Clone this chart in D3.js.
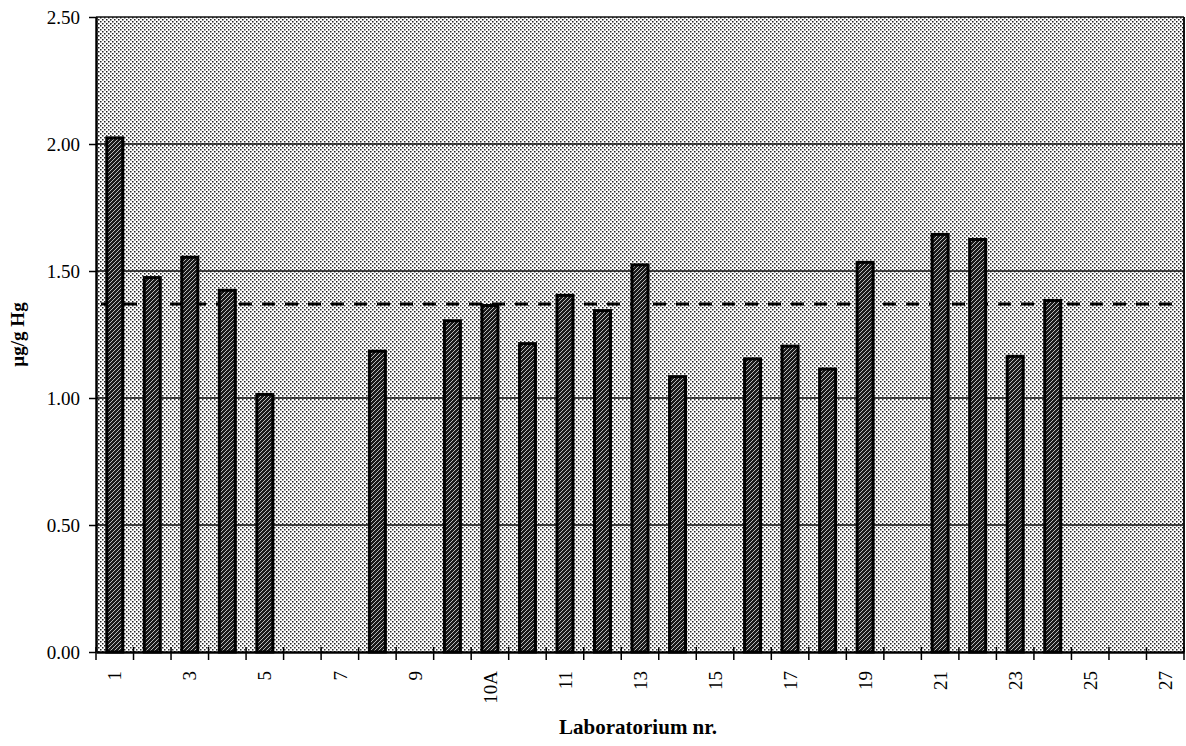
<!DOCTYPE html>
<html>
<head>
<meta charset="utf-8">
<script src="https://cdn.jsdelivr.net/npm/d3@7"></script>
<style>
  body { margin: 0; background: #fff; }
  svg { display: block; font-family: "Liberation Serif", "DejaVu Serif", serif; }
</style>
</head>
<body>
<svg id="chart" width="1186" height="746"></svg>
<script>
// labs on the x axis (only every other one gets a label)
const labs = ["1","2","3","4","5","6","7","8","9","10","10A","10B","11","12","13","14","15","16","17","18","19","20","21","22","23","24","25","26","27"];
// measured Hg, null = no result
const hgValues = [2.03,1.48,1.56,1.43,1.02,null,null,1.19,null,1.31,1.37,1.22,1.41,1.35,1.53,1.09,null,1.16,1.21,1.12,1.54,null,1.65,1.63,1.17,1.39,null,null,null];
const meanValue = 1.37;
const yTicks = [0, 0.5, 1.0, 1.5, 2.0, 2.5];

const svg = d3.select("#chart");
const m = { top: 17, right: 2, bottom: 94, left: 96 };
const W = 1186, H = 746;
const iW = W - m.left - m.right, iH = H - m.top - m.bottom;

const defs = svg.append("defs");
const stip = defs.append("pattern").attr("id", "stipple")
  .attr("width", 4).attr("height", 4).attr("patternUnits", "userSpaceOnUse");
stip.append("rect").attr("width", 4).attr("height", 4).attr("fill", "#fff");
stip.append("rect").attr("x", 0).attr("y", 0).attr("width", 1.5).attr("height", 1.5).attr("fill", "#222");
stip.append("rect").attr("x", 2).attr("y", 2).attr("width", 1.5).attr("height", 1.5).attr("fill", "#222");

const hatch = defs.append("pattern").attr("id", "hatch")
  .attr("width", 4).attr("height", 4).attr("patternUnits", "userSpaceOnUse");
hatch.append("rect").attr("width", 4).attr("height", 4).attr("fill", "#1a1a1a");
hatch.append("path").attr("d", "M-1,1 L1,-1 M0,4 L4,0 M3,5 L5,3")
  .attr("stroke", "#bbb").attr("stroke-width", 1);

const g = svg.append("g").attr("transform", `translate(${m.left},${m.top})`);

const x = d3.scaleBand().domain(labs).range([0, iW]);
const y = d3.scaleLinear().domain([0, 2.5]).range([iH, 0]);

// background
g.append("rect").attr("width", iW).attr("height", iH).attr("fill", "url(#stipple)");

// gridlines
g.selectAll(".grid").data(yTicks.filter(v => v > 0)).join("line")
  .attr("x1", 0).attr("x2", iW)
  .attr("y1", d => y(d)).attr("y2", d => y(d))
  .attr("stroke", "#111").attr("stroke-width", 1.6);

// right border
g.append("line").attr("x1", iW).attr("x2", iW).attr("y1", 0).attr("y2", iH)
  .attr("stroke", "#111").attr("stroke-width", 2);

// mean line
g.append("line")
  .attr("x1", 5).attr("x2", iW - 4)
  .attr("y1", y(meanValue)).attr("y2", y(meanValue))
  .attr("stroke", "#000").attr("stroke-width", 3)
  .attr("stroke-dasharray", "13,10");

// bars
const bw = 19;
g.selectAll(".bar").data(labs.map((l, i) => [l, hgValues[i]]).filter(d => d[1] != null))
  .join("rect")
  .attr("x", d => x(d[0]) + x.bandwidth() / 2 - bw / 2 + 1.5)
  .attr("y", d => y(d[1]) + 1.5)
  .attr("width", bw - 3)
  .attr("height", d => iH - y(d[1]) - 1.5)
  .attr("fill", "url(#hatch)")
  .attr("stroke", "#000").attr("stroke-width", 3);

// y axis
const yAxis = g.append("g")
  .call(d3.axisLeft(y).tickValues(yTicks).tickFormat(d3.format(".2f")).tickSize(7).tickSizeOuter(0));
yAxis.select(".domain").attr("stroke", "#000").attr("stroke-width", 2.5);
yAxis.selectAll(".tick line").attr("stroke", "#000").attr("stroke-width", 1.5);
yAxis.selectAll(".tick text").attr("font-size", 19).attr("fill", "#000")
  .attr("font-family", "Liberation Serif, serif").attr("x", -16);

// x axis
const xAxis = g.append("g").attr("transform", `translate(0,${iH})`)
  .call(d3.axisBottom(x).tickSize(0).tickFormat((d, i) => i % 2 === 0 ? d : ""));
xAxis.select(".domain").attr("stroke", "#000").attr("stroke-width", 2.5);
xAxis.selectAll(".tick text")
  .attr("font-size", 19).attr("fill", "#000").attr("font-family", "Liberation Serif, serif")
  .attr("transform", "rotate(-90)")
  .attr("text-anchor", "end").attr("x", -19).attr("y", 0).attr("dy", "0.35em");

// crossing tick marks at band boundaries
const bounds = labs.map(l => x(l)).concat([iW]);
g.selectAll(".xt").data(bounds).join("line")
  .attr("x1", d => d).attr("x2", d => d)
  .attr("y1", iH - 5).attr("y2", iH + 8)
  .attr("stroke", "#000").attr("stroke-width", 1.5);

// titles
svg.append("text")
  .attr("transform", `translate(24,${m.top + iH / 2}) rotate(-90)`)
  .attr("text-anchor", "middle").attr("font-weight", "bold").attr("font-size", 19)
  .text("µg/g Hg");

svg.append("text")
  .attr("x", 638).attr("y", 734)
  .attr("text-anchor", "middle").attr("font-weight", "bold").attr("font-size", 21)
  .text("Laboratorium nr.");
</script>
</body>
</html>
